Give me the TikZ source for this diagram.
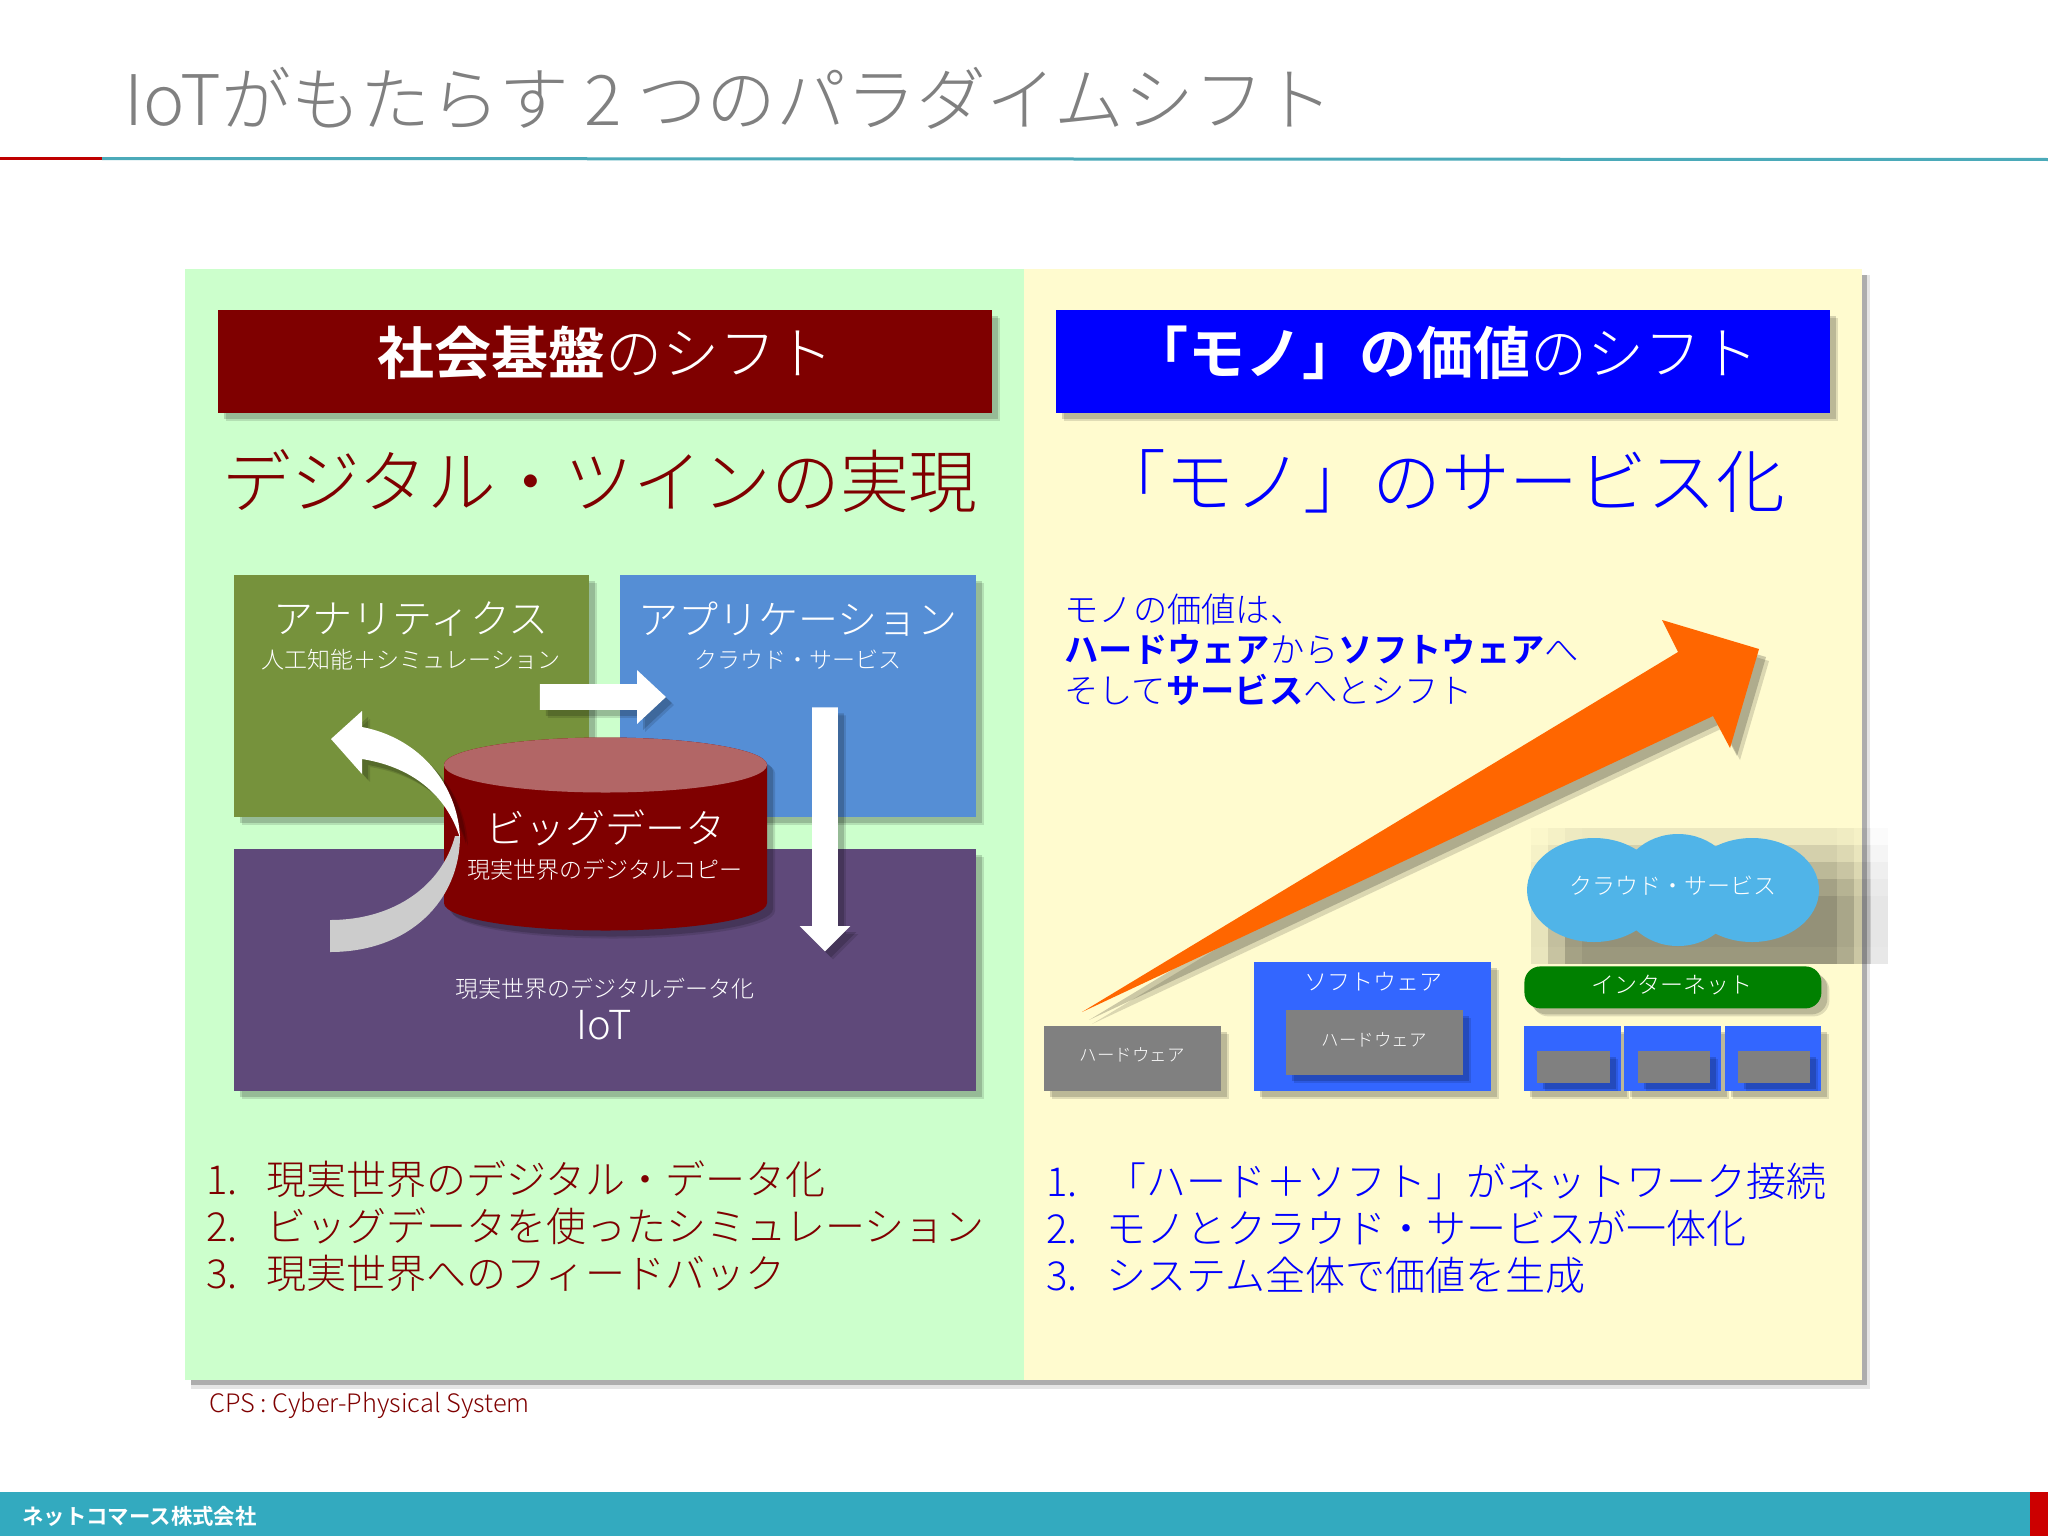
\documentclass[tikz,border=0pt]{standalone}
\usepackage{fontspec}
\setmainfont[BoldFont={Noto Sans CJK JP Bold}]{Noto Sans CJK JP Light}
\usetikzlibrary{shadows,shapes.arrows}

\definecolor{darkred}{HTML}{7F0000}
\definecolor{panelgreen}{HTML}{CCFFCC}
\definecolor{panelyellow}{HTML}{FFFBCF}
\definecolor{olivebox}{HTML}{76923C}
\definecolor{bluebox}{HTML}{558ED5}
\definecolor{purplebox}{HTML}{5F497A}
\definecolor{softblue}{HTML}{3366FF}
\definecolor{cloudblue}{HTML}{50B4E8}
\definecolor{barteal}{HTML}{33AABF}
\definecolor{lineteal}{HTML}{4BAAB9}
\definecolor{bigarrow}{HTML}{FF6600}

\tikzset{
  softshadow/.style={
    drop shadow={shadow xshift=4pt,shadow yshift=-4pt,opacity=.12,fill=black},
    drop shadow={shadow xshift=3pt,shadow yshift=-3pt,opacity=.16,fill=black}},
  plate/.style={anchor=north west,inner sep=0pt,outer sep=0pt},
  tbig/.style={text=white,inner sep=0pt,font=\fontsize{20pt}{24pt}\selectfont},
  tsub/.style={text=white,inner sep=0pt,font=\fontsize{11.5pt}{14pt}\selectfont},
  ttiny/.style={text=white,inner sep=0pt,font=\fontsize{8.75pt}{11pt}\selectfont},
  thead/.style={text=white,inner sep=0pt,font=\fontsize{28.5pt}{32pt}\selectfont},
  tlead/.style={inner sep=0pt,font=\fontsize{34.4pt}{38pt}\selectfont},
  tlist/.style={anchor=north west,inner sep=0pt,align=left,font=\fontsize{20pt}{23.5pt}\selectfont},
  whitearrow/.style={single arrow,fill=white,inner sep=6.25pt,outer sep=0pt,softshadow},
}

\begin{document}
\begin{tikzpicture}[x=.5pt,y=-.5pt]
  \useasboundingbox (0,0) rectangle (2048,1536);
  \fill[white] (0,0) rectangle (2048,1536);

  % title and footer
  \node (title) [anchor=base west,inner sep=0pt,text=gray,font=\fontsize{34.9pt}{38pt}\selectfont]
    at (124,126) {IoTがもたらす 2 つのパラダイムシフト};
  \fill[lineteal] (102,157) -- (2048,158) -- (2048,161) -- (102,160) -- cycle;
  \fill[red!75!black] (0,157) rectangle (102,160);
  \fill[barteal] (0,1492) rectangle (2048,1536);
  \fill[red!80!black] (2030,1492) rectangle (2048,1536);
  \node (company) [anchor=west,inner sep=0pt,text=white,font=\bfseries\fontsize{10.7pt}{12pt}\selectfont]
    at (22,1516) {ネットコマース株式会社};

  % the two panels
  \fill[black!10] (191,275) rectangle (1870,1389);
  \fill[black!32] (191,275) rectangle (1867,1385);
  \fill[panelgreen] (185,269) rectangle (1024,1380);
  \fill[panelyellow] (1024,269) rectangle (1862,1380);
  \node (cps) [anchor=west,inner sep=0pt,text=darkred,font=\fontsize{12.7pt}{14pt}\selectfont]
    at (209,1405) {CPS : Cyber-Physical System};

  % headers
  \node (headl) [plate,fill=darkred,softshadow,minimum width=387pt,minimum height=51.5pt] at (218,310) {};
  \node (headr) [plate,fill=blue,softshadow,minimum width=387pt,minimum height=51.5pt] at (1056,310) {};
  \node (headltext) [thead] at (605,353) {\textbf{社会基盤}のシフト};
  \node (headrtext) [thead] at (1445,353) {\textbf{「モノ」の価値}のシフト};
  \node (leadl) [tlead,text=darkred] at (600,481) {デジタル・ツインの実現};
  \node (leadr) [tlead,text=blue] at (1441,481) {「モノ」のサービス化};

  % left side
  \node (analytics) [plate,fill=olivebox,softshadow,minimum width=177.5pt,minimum height=121pt] at (234,575) {};
  \node (apps) [plate,fill=bluebox,softshadow,minimum width=178pt,minimum height=121pt] at (620,575) {};
  \node (iot) [plate,fill=purplebox,softshadow,minimum width=371pt,minimum height=121pt] at (234,849) {};
  \node (analyticstext) [tbig] at (411,619) {アナリティクス};
  \node (analyticssub) [tsub] at (411,660) {人工知能＋シミュレーション};
  \node (appstext) [tbig] at (798,619) {アプリケーション};
  \node (appssub) [tsub] at (798,660) {クラウド・サービス};
  \node (iotsub) [tsub] at (605,989) {現実世界のデジタルデータ化};
  \node (iottext) [tbig] at (604,1025) {IoT};

  \fill[darkred,softshadow] (444,765) -- (444,903) arc[start angle=180,end angle=360,x radius=80.75pt,y radius=13.75pt]
    -- (767,765) arc[start angle=0,end angle=180,x radius=80.75pt,y radius=13.75pt] -- cycle;
  \fill[darkred!60!white] (605.5,765) ellipse[x radius=80.75pt,y radius=13.75pt];
  \node (bigdata) [tbig] at (605,828) {ビッグデータ};
  \node (bigdatasub) [tsub] at (605,870) {現実世界のデジタルコピー};

  \node (arrowapps) [whitearrow,minimum height=63pt,minimum width=26.5pt,
    single arrow head extend=7pt,single arrow tip angle=86] at (596,697) {};
  \node (arrowiot) [whitearrow,shape border rotate=270,minimum height=122pt,minimum width=25pt,
    single arrow head extend=6.25pt,single arrow tip angle=90] at (825,823) {};

  % curved arrow, its back first
  \fill[black!20] (460,836) .. controls (460,900) and (410,952) .. (330,952)
    -- (330,920) .. controls (395,920) and (442,885) .. (455,836) -- cycle;
  \fill[white,softshadow] (331,739) -- (362,711) -- (362,727) .. controls (420,738) and (458,785) .. (460,838)
    .. controls (448,800) and (418,768) .. (362,759) -- (362,774) -- cycle;

  % right side
  \node (stepstext) [anchor=north west,inner sep=0pt,align=left,text=blue,font=\fontsize{17.15pt}{20.3pt}\selectfont] at (1064,593)
    {モノの価値は、\\\textbf{ハードウェア}から\textbf{ソフトウェア}へ\\そして\textbf{サービス}へとシフト};

  \fill[bigarrow,drop shadow={shadow xshift=5pt,shadow yshift=-6pt,opacity=.14,fill=black},
    drop shadow={shadow xshift=3.5pt,shadow yshift=-4pt,opacity=.2,fill=black}]
    (1082,1012) -- (1678,652) -- (1662,620) -- (1759,649) -- (1730,748) -- (1713,716) -- cycle;

  % pixelated shadow of the cloud
  \foreach \sx in {1531,1548,...,1875}
    \foreach \sy in {828,845,...,962} {
      \pgfmathsetmacro{\shade}{.42*min(1,max(0,(\sx-1520)/50))*min(1,max(0,(1885-\sx)/60))*min(1,max(0,(\sy-815)/75))*min(1,max(0,(975-\sy)/30))}
      \fill[black,opacity=\shade] (\sx,\sy) rectangle +(17,17);
    }
  \fill[cloudblue] (1594,890) ellipse[x radius=33.5pt,y radius=26pt]
    (1678,890) ellipse[x radius=30pt,y radius=28pt]
    (1752,890) ellipse[x radius=33.5pt,y radius=26pt];
  \node (cloud) [tsub] at (1673,886) {クラウド・サービス};

  \node (hw) [plate,fill=gray,softshadow,minimum width=88.5pt,minimum height=32.5pt] at (1044,1026) {};
  \node (hwtext) [ttiny] at (1132,1055) {ハードウェア};
  \node (sw) [plate,fill=softblue,softshadow,minimum width=118.5pt,minimum height=64.5pt] at (1254,962) {};
  \node (swtext) [tsub] at (1373,982) {ソフトウェア};
  \node (swhw) [plate,fill=gray,softshadow,minimum width=88.5pt,minimum height=32.5pt] at (1286,1010) {};
  \node (swhwtext) [ttiny] at (1374,1040) {ハードウェア};

  \node (net) [fill=green!50!black,rounded corners=8pt,softshadow,inner sep=0pt,minimum width=148.5pt,minimum height=21pt,
    anchor=north west] at (1524,966) {};
  \node (nettext) [tsub] at (1672,985) {インターネット};

  \node (dev1) [plate,fill=softblue,softshadow,minimum width=48.5pt,minimum height=32.5pt] at (1524,1026) {};
  \node (dev2) [plate,fill=softblue,softshadow,minimum width=48.5pt,minimum height=32.5pt] at (1624,1026) {};
  \node (dev3) [plate,fill=softblue,softshadow,minimum width=48pt,minimum height=32.5pt] at (1725,1026) {};
  \node (chip1) [plate,fill=gray,softshadow,minimum width=36.5pt,minimum height=16pt] at (1537,1051) {};
  \node (chip2) [plate,fill=gray,softshadow,minimum width=36pt,minimum height=16pt] at (1638,1051) {};
  \node (chip3) [plate,fill=gray,softshadow,minimum width=36pt,minimum height=16pt] at (1738,1051) {};

  % numbered lists
  \node (listl) [tlist,text=darkred] at (206,1160)
    {\makebox[30pt][l]{1.}現実世界のデジタル・データ化\\
     \makebox[30pt][l]{2.}ビッグデータを使ったシミュレーション\\
     \makebox[30pt][l]{3.}現実世界へのフィードバック};
  \node (listr) [tlist,text=blue] at (1046,1162)
    {\makebox[30pt][l]{1.}「ハード＋ソフト」がネットワーク接続\\
     \makebox[30pt][l]{2.}モノとクラウド・サービスが一体化\\
     \makebox[30pt][l]{3.}システム全体で価値を生成};
\end{tikzpicture}
\end{document}
